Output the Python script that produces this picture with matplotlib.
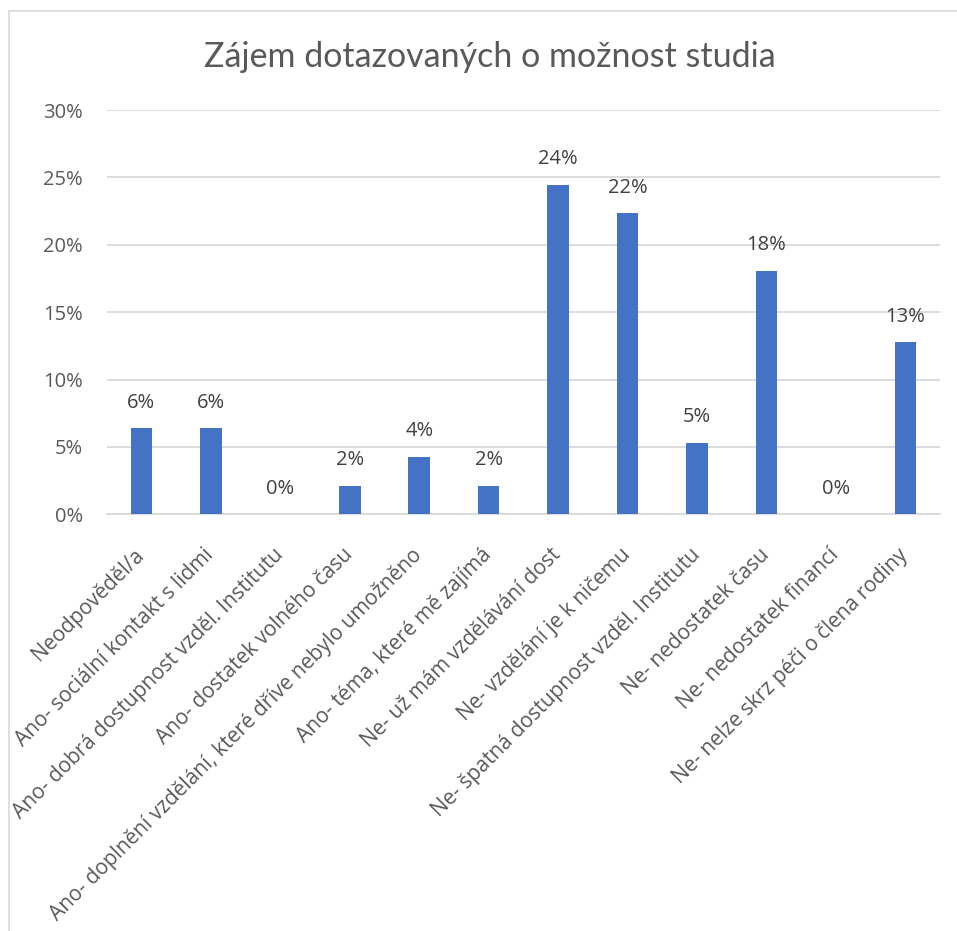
import matplotlib
matplotlib.use("Agg")
import matplotlib.pyplot as plt
from matplotlib.patches import Rectangle
from matplotlib.ticker import FuncFormatter, MultipleLocator

plt.rcParams["font.family"] = ["Open Sans", "DejaVu Sans"]

categories = [
    "Neodpověděl/a",
    "Ano- sociální kontakt s lidmi",
    "Ano- dobrá dostupnost vzděl. Institutu",
    "Ano- dostatek volného času",
    "Ano- doplnění vzdělání, které dříve nebylo umožněno",
    "Ano- téma, které mě zajímá",
    "Ne- už mám vzdělávání dost",
    "Ne- vzdělání je k ničemu",
    "Ne- špatná dostupnost vzděl. Institutu",
    "Ne- nedostatek času",
    "Ne- nedostatek financí",
    "Ne- nelze skrz péči o člena rodiny",
]
values = [0.0638, 0.0638, 0.0, 0.0213, 0.0426, 0.0213,
          0.2447, 0.2234, 0.0532, 0.1809, 0.0, 0.1277]
title = "Zájem dotazovaných o možnost studia"

W, H = 957, 931
fig = plt.figure(figsize=(W / 100, H / 100), dpi=100)
fig.patch.set_facecolor("white")

# chart border (cut off at right/bottom like the reference)
fig.patches.append(Rectangle((9 / W, -0.05), 1.2, 1 - 11 / H + 0.05,
                             transform=fig.transFigure, fill=False,
                             edgecolor="#d9d9d9", linewidth=1.2))

ax_left, ax_right = 106.7 / W, 940 / W
ax_bottom, ax_top = 1 - 514.3 / H, 1 - 110 / H
ax = fig.add_axes([ax_left, ax_bottom, ax_right - ax_left, ax_top - ax_bottom])

x = list(range(len(categories)))
ax.bar(x, values, width=0.31, color="#4472c4", zorder=3)
ax.set_xlim(-0.5, len(categories) - 0.5)
ax.set_ylim(0, 0.30)
ax.yaxis.set_major_locator(MultipleLocator(0.05))
ax.yaxis.set_major_formatter(FuncFormatter(lambda v, p: f"{v*100:.0f}%"))
ax.grid(axis="y", color="#d9d9d9", linewidth=1.3, zorder=0)
for s in ["top", "right", "left"]:
    ax.spines[s].set_visible(False)
ax.spines["bottom"].set_color("#d9d9d9")
ax.spines["bottom"].set_linewidth(1.3)
ax.tick_params(axis="both", length=0)
ax.tick_params(axis="y", pad=17, labelsize=14.5, labelcolor="#595959")

ax.set_xticks(x)
ax.set_xticklabels(categories, rotation=45, ha="right", va="center",
                   rotation_mode="anchor", fontsize=15, color="#595959")
ax.tick_params(axis="x", pad=27)

for xi, v in zip(x, values):
    ax.annotate(f"{v*100:.0f}%", (xi, v), xytext=(0, 18.5), textcoords="offset points",
                ha="center", va="center", fontsize=14.5, color="#404040")

fig.text(489.5 / W, 1 - 57 / H, title, ha="center", va="center",
         fontsize=24.5, color="#595959", family="Lato")

fig.savefig("out.png", dpi=100, facecolor="white")
